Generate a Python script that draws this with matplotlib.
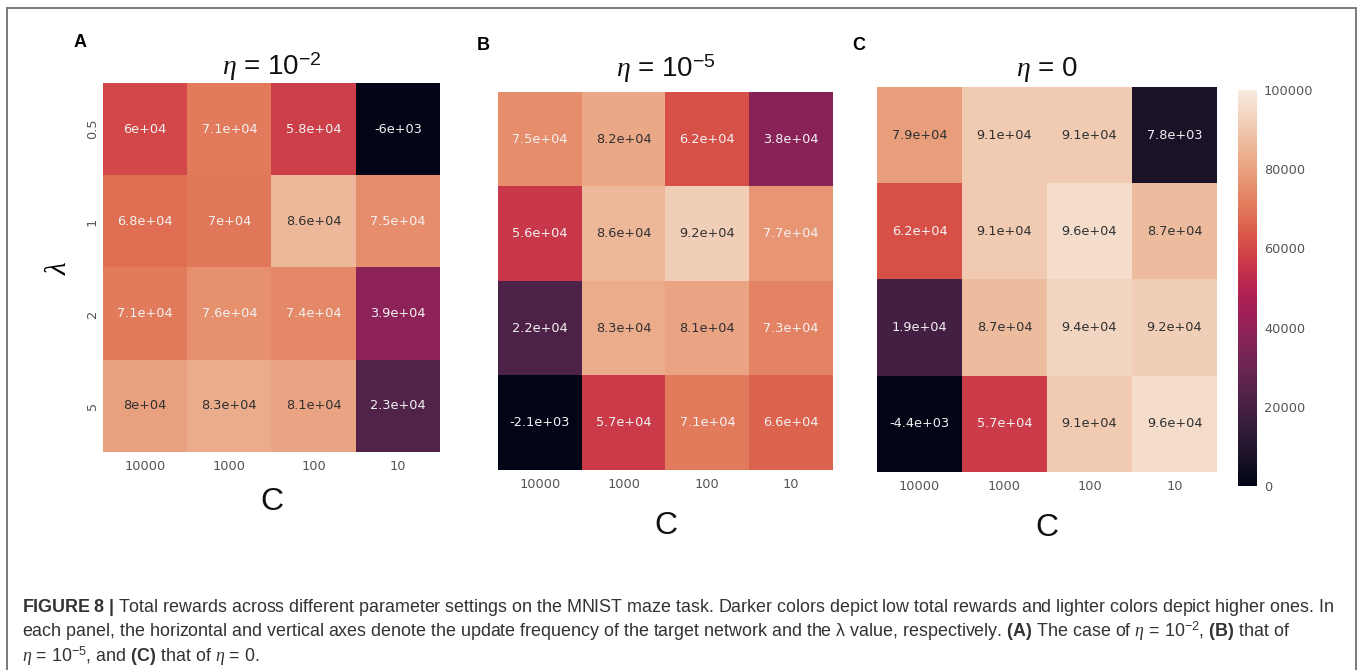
import numpy as np
import matplotlib
matplotlib.use("Agg")
import matplotlib.pyplot as plt
from matplotlib.colors import LinearSegmentedColormap, ListedColormap
from matplotlib.patches import Rectangle

# Data: total rewards, rows = lambda, columns = C
lambdas = ["0.5", "1", "2", "5"]
c_values = ["10000", "1000", "100", "10"]

rewards_a = [[6e4, 7.1e4, 5.8e4, -6e3],
             [6.8e4, 7e4, 8.6e4, 7.5e4],
             [7.1e4, 7.6e4, 7.4e4, 3.9e4],
             [8e4, 8.3e4, 8.1e4, 2.3e4]]
rewards_b = [[7.5e4, 8.2e4, 6.2e4, 3.8e4],
             [5.6e4, 8.6e4, 9.2e4, 7.7e4],
             [2.2e4, 8.3e4, 8.1e4, 7.3e4],
             [-2.1e3, 5.7e4, 7.1e4, 6.6e4]]
rewards_c = [[7.9e4, 9.1e4, 9.1e4, 7.8e3],
             [6.2e4, 9.1e4, 9.6e4, 8.7e4],
             [1.9e4, 8.7e4, 9.4e4, 9.2e4],
             [-4.4e3, 5.7e4, 9.1e4, 9.6e4]]

panel_letters = ["A", "B", "C"]
panel_titles = [r"$\eta$ = 10$^{-2}$", r"$\eta$ = 10$^{-5}$", r"$\eta$ = 0"]
cbar_ticks = [0, 20000, 40000, 60000, 80000, 100000]

# colormap (seaborn "rocket" if available), slightly muted like the scan
try:
    import seaborn as sns
    base = sns.color_palette("rocket", as_cmap=True)
except Exception:
    base = LinearSegmentedColormap.from_list(
        "rocket_like",
        ["#03051a", "#35193e", "#701f57", "#ad1759", "#e13342",
         "#f37651", "#f6b48f", "#faebdd"])
cols = base(np.linspace(0, 1, 256))[:, :3]
gray = (cols @ np.array([0.3, 0.59, 0.11]))[:, None]
cols = cols * 0.82 + gray * 0.18
cmap = ListedColormap(cols)

plt.rcParams['mathtext.fontset'] = 'custom'
plt.rcParams['mathtext.rm'] = 'Liberation Sans'
plt.rcParams['mathtext.bf'] = 'Liberation Sans:bold'
plt.rcParams['mathtext.it'] = 'Liberation Serif:italic'

W, H = 1358, 670
fig = plt.figure(figsize=(W / 100, H / 100), dpi=100)

# outer frame
fig.add_artist(Rectangle((7 / W, -0.05), 1349 / W, 1.05 - 8 / H,
                         transform=fig.transFigure, fill=False,
                         edgecolor='#707070', lw=1.3))


def luminance(rgb):
    lin = [c / 12.92 if c <= 0.03928 else ((c + 0.055) / 1.055) ** 2.4 for c in rgb[:3]]
    return 0.2126 * lin[0] + 0.7152 * lin[1] + 0.0722 * lin[2]


# axes boxes in pixels: left, top, right, bottom
boxes = [(103, 83, 440, 452), (498, 92, 833, 470), (877, 87, 1217, 472)]
title_pads = [5, 11, 8]
xlabel_pads = [10, 14, 14]
letter_pos = [(74, 47), (477, 50), (852, 50)]

vmin, vmax = 0, 100000
im = None
for i, data in enumerate([rewards_a, rewards_b, rewards_c]):
    l, t, r, b = boxes[i]
    ax = fig.add_axes([l / W, 1 - b / H, (r - l) / W, (b - t) / H])
    arr = np.array(data)
    im = ax.imshow(arr, cmap=cmap, vmin=vmin, vmax=vmax, aspect='auto',
                   interpolation='nearest')
    for rr in range(arr.shape[0]):
        for cc in range(arr.shape[1]):
            v = arr[rr, cc]
            col = cmap((np.clip(v, vmin, vmax) - vmin) / (vmax - vmin))
            tc = '#303030' if luminance(col) > 0.40 else '#f2f2f2'
            ax.text(cc, rr, f"{v:.2g}", ha='center', va='center',
                    fontsize=9.3, color=tc)
    for s in ax.spines.values():
        s.set_visible(False)
    ax.set_xticks(range(len(c_values)))
    ax.set_xticklabels(c_values)
    ax.tick_params(length=0, labelsize=9.3, colors='#555555', pad=6)
    if i == 0:
        ax.set_yticks(range(len(lambdas)))
        ax.set_yticklabels(lambdas, rotation=90, va='center')
        ax.tick_params(axis='y', pad=3)
        ax.set_ylabel(r"$\lambda$", fontsize=21, labelpad=10)
    else:
        ax.set_yticks([])
    ax.set_xlabel("C", fontsize=23, family='Liberation Sans',
                  labelpad=xlabel_pads[i], color='#111111')
    ax.set_title(panel_titles[i], fontsize=20, family='Liberation Sans',
                 pad=title_pads[i], color='#111111')
    lx, ly = letter_pos[i]
    fig.text(lx / W, 1 - ly / H, panel_letters[i], fontsize=13,
             fontweight='bold', family='Liberation Sans', va='baseline')

# colorbar
cax = fig.add_axes([1238 / W, 1 - 486 / H, 19 / W, 396 / H])
cbar = fig.colorbar(im, cax=cax, ticks=cbar_ticks)
cbar.outline.set_visible(False)
cax.tick_params(length=0, labelsize=9.3, colors='#555555', pad=5)

# caption
caption_lines = [
    r"$\mathbf{FIGURE\ 8\ |}$ Total rewards across different parameter settings on the MNIST maze task. "
    r"Darker colors depict low total rewards and lighter colors depict higher ones. In",
    r"each panel, the horizontal and vertical axes denote the update frequency of the target network "
    r"and the λ value, respectively. $\mathbf{(A)}$ The case of $\eta$ = 10$^{-2}$, $\mathbf{(B)}$ that of",
    r"$\eta$ = 10$^{-5}$, and $\mathbf{(C)}$ that of $\eta$ = 0.",
]
baselines = [612, 637, 662]
for line, yb in zip(caption_lines, baselines):
    fig.text(22 / W, 1 - yb / H, line, fontsize=12.9, family='Liberation Sans',
             color='#333333', va='baseline')

fig.savefig("out.png", dpi=100)
